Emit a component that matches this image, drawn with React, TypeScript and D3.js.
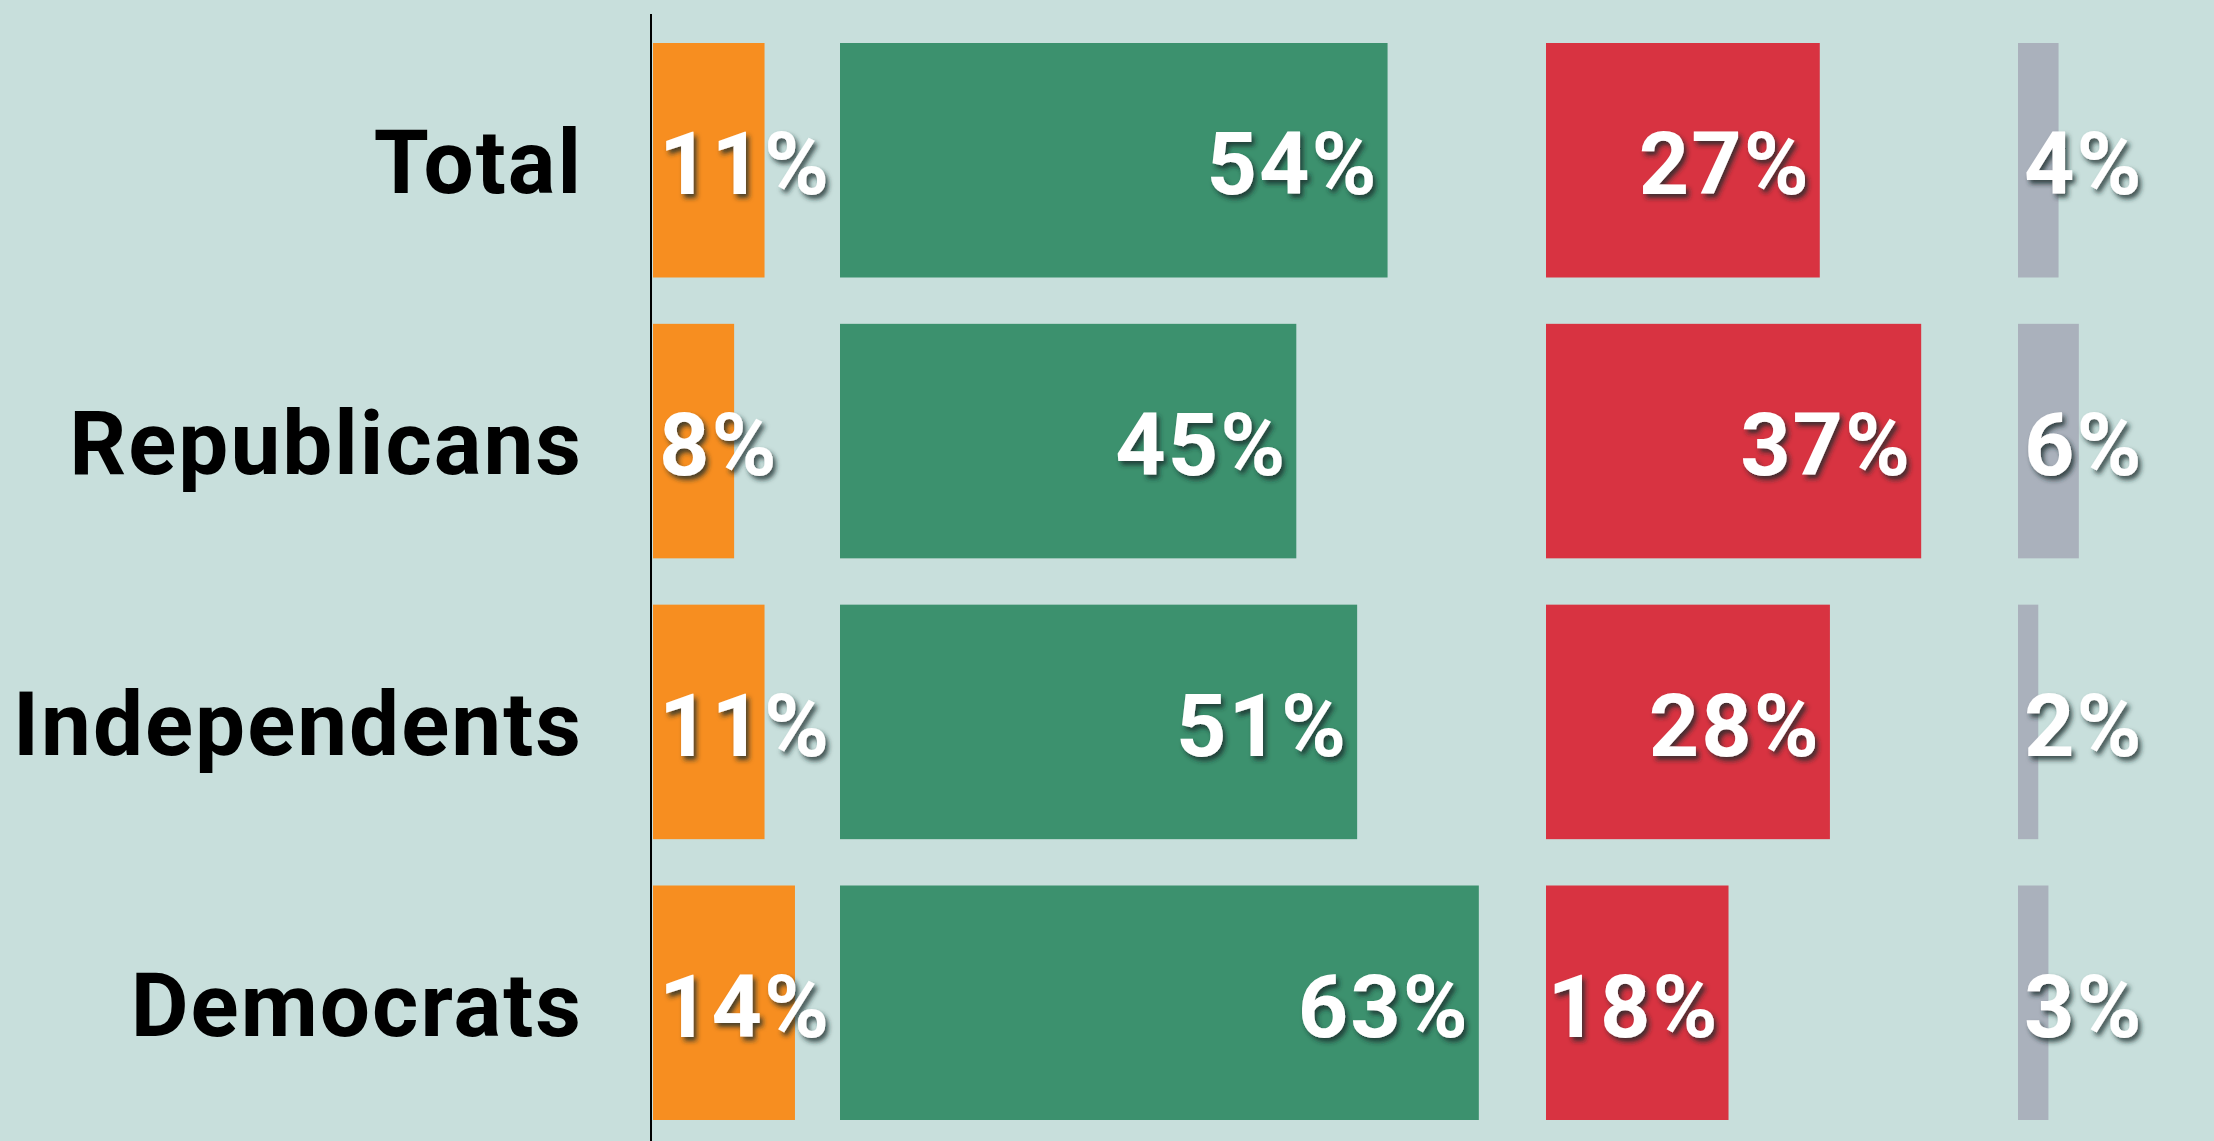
import React from "react";
import * as d3 from "d3";

// survey answers by party, one array per answer column
const groups = ["Total", "Republicans", "Independents", "Democrats"];
const orangeVals = [11, 8, 11, 14];
const greenVals = [54, 45, 51, 63];
const redVals = [27, 37, 28, 18];
const grayVals = [4, 6, 2, 3];

const W = 2214;
const H = 1141;
const axisX = 651;
const font = "Roboto, 'Noto Sans', sans-serif";

const columns = [
  { vals: orangeVals, color: "#f78e20", start: 653, anchor: "start" },
  { vals: greenVals, color: "#3c916e", start: 840, anchor: "end" },
  { vals: redVals, color: "#d83341", start: 1546, anchor: "end" },
  { vals: grayVals, color: "#aab1bc", start: 2018, anchor: "start" },
];

const App = () => {
  const y = d3.scaleBand().domain(groups).range([43, 1120]).paddingInner(0.165);
  const x = d3.scaleLinear().domain([0, 100]).range([0, 1014]);

  return (
    <svg
      width={W}
      height={H}
      style={{ position: "absolute", left: 0, top: 0, display: "block" }}
    >
      <defs>
        <filter id="shadow" x="-20%" y="-30%" width="140%" height="160%">
          <feDropShadow dx="3" dy="4" stdDeviation="2.5" floodColor="#1e2b2a" floodOpacity="0.8" />
        </filter>
      </defs>
      <rect width={W} height={H} fill="#c8dfdc" />

      {groups.map(g => (
        <text
          key={g}
          x={583}
          y={y(g)! + y.bandwidth() / 2 + 33}
          textAnchor="end"
          fontFamily={font}
          fontWeight={700}
          fontSize={89}
          letterSpacing={2}
          fill="#000"
        >
          {g}
        </text>
      ))}

      {columns.map((c, ci) =>
        groups.map((g, i) => (
          <rect
            key={`r${ci}-${i}`}
            x={c.start}
            y={y(g)}
            width={x(c.vals[i])}
            height={y.bandwidth()}
            fill={c.color}
          />
        ))
      )}

      <line x1={axisX} x2={axisX} y1={14} y2={H} stroke="#000" strokeWidth={2} />

      {columns.map((c, ci) =>
        groups.map((g, i) => {
          const lx = c.anchor === "start" ? c.start + 6 : c.start + x(c.vals[i]) - 9;
          return (
            <text
              key={`t${ci}-${i}`}
              x={lx}
              y={y(g)! + y.bandwidth() / 2 + 34}
              textAnchor={c.anchor}
              fontFamily={font}
              fontWeight={700}
              fontSize={88}
              letterSpacing={2}
              fill="#fff"
              filter="url(#shadow)"
            >
              {c.vals[i]}%
            </text>
          );
        })
      )}
    </svg>
  );
};

export default App;
